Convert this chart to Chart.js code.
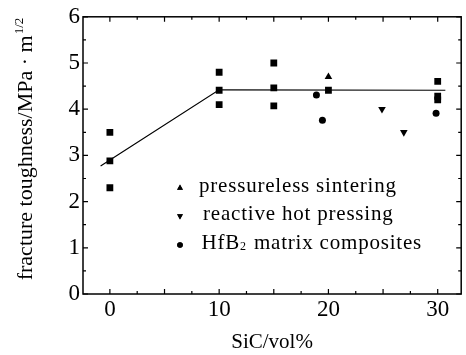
<!DOCTYPE html>
<html>
<head>
<meta charset="utf-8">
<script src="https://cdn.jsdelivr.net/npm/chart.js@4.4.0/dist/chart.umd.min.js"></script>
<style>
  html, body { margin: 0; padding: 0; background: #fff; }
  #wrap { position: relative; width: 466px; height: 355px; }
</style>
</head>
<body>
<div id="wrap"><canvas id="toughnessChart"></canvas></div>
<script>
// values
const matrixX = [0, 0, 0, 10, 10, 10, 15, 15, 15, 20, 30, 30, 30];
const matrixY = [3.5, 2.88, 2.3, 4.8, 4.41, 4.1, 5.0, 4.46, 4.07, 4.41, 4.6, 4.28, 4.2];
const sinterX = [20];
const sinterY = [4.7];
const hotPressX = [24.9, 26.9];
const hotPressY = [4.0, 3.5];
const hfb2X = [18.9, 19.45, 29.85];
const hfb2Y = [4.31, 3.76, 3.91];
const trendX = [-0.85, 10, 30.7];
const trendY = [2.77, 4.42, 4.41];

const legendLabels = ['pressureless sintering', 'reactive hot pressing', 'HfB₂ matrix composites'];
const xLabelTicks = [0, 10, 20, 30];
const yLabelTicks = [0, 1, 2, 3, 4, 5, 6];
const xTickMarks = [0, 2.5, 5, 7.5, 10, 12.5, 15, 17.5, 20, 22.5, 25, 27.5, 30];
const yTickMarks = [0, 0.5, 1, 1.5, 2, 2.5, 3, 3.5, 4, 4.5, 5, 5.5, 6];
const xTitle = 'SiC/vol%';
const yTitle = 'fracture toughness/MPa · m';
const yTitleSup = '1/2';

const serif = "'Liberation Serif', 'Times New Roman', serif";

function toPoints(xs, ys) {
    return xs.map((x, i) => ({ x: x, y: ys[i] }));
}

function marker(ctx, style, rotation, radius, x, y) {
    ctx.save();
    ctx.fillStyle = '#000';
    Chart.helpers.drawPoint(ctx, { pointStyle: style, rotation: rotation, radius: radius, borderWidth: 0 }, x, y);
    ctx.fill();
    ctx.restore();
}

// frame, inward ticks, y title and legend
const framePlugin = {
    id: 'frame',
    afterDraw(chart) {
        const ctx = chart.ctx;
        const a = chart.chartArea;
        const xs = chart.scales.x;
        const ys = chart.scales.y;
        ctx.save();
        ctx.strokeStyle = '#000';
        ctx.lineWidth = 1.5;
        ctx.strokeRect(a.left, a.top, a.right - a.left, a.bottom - a.top);

        ctx.lineWidth = 1.2;
        ctx.beginPath();
        xTickMarks.forEach(v => {
            const px = xs.getPixelForValue(v);
            const len = v % 5 === 0 ? 5 : 3;
            ctx.moveTo(px, a.bottom); ctx.lineTo(px, a.bottom - len);
            ctx.moveTo(px, a.top); ctx.lineTo(px, a.top + len);
        });
        yTickMarks.forEach(v => {
            const py = ys.getPixelForValue(v);
            const len = v % 1 === 0 ? 5 : 3;
            ctx.moveTo(a.left, py); ctx.lineTo(a.left + len, py);
            ctx.moveTo(a.right, py); ctx.lineTo(a.right - len, py);
        });
        ctx.stroke();

        // y title with superscript
        ctx.fillStyle = '#000';
        ctx.font = '22px ' + serif;
        const mainW = ctx.measureText(yTitle).width;
        ctx.font = '13px ' + serif;
        const supW = ctx.measureText(yTitleSup).width;
        const total = mainW + 1 + supW;
        ctx.translate(32, 149);
        ctx.rotate(-Math.PI / 2);
        ctx.textBaseline = 'alphabetic';
        ctx.textAlign = 'left';
        ctx.font = '22px ' + serif;
        ctx.fillText(yTitle, -total / 2, 0);
        ctx.font = '13px ' + serif;
        ctx.fillText(yTitleSup, -total / 2 + mainW + 1, -9);
        ctx.restore();

        // legend
        ctx.save();
        ctx.fillStyle = '#000';
        ctx.textBaseline = 'alphabetic';
        ctx.textAlign = 'left';
        if ('letterSpacing' in ctx) ctx.letterSpacing = '0.8px';
        const rows = [
            { style: 'triangle', rot: 0, r: 3.4, label: legendLabels[0], tx: 199, base: 192 },
            { style: 'triangle', rot: 180, r: 3.4, label: legendLabels[1], tx: 203, base: 220 },
            { style: 'circle', rot: 0, r: 2.8, label: legendLabels[2], tx: 201.5, base: 249 }
        ];
        rows.forEach(row => {
            marker(ctx, row.style, row.rot, row.r, 180, row.base - 4);
            const parts = row.label.split('₂');
            ctx.font = '21px ' + serif;
            let x = row.tx;
            ctx.fillText(parts[0], x, row.base);
            x += ctx.measureText(parts[0]).width;
            if (parts.length > 1) {
                ctx.font = '12px ' + serif;
                ctx.fillText('2', x, row.base + 1);
                x += ctx.measureText('2').width + 1;
                ctx.font = '21px ' + serif;
                ctx.fillText(parts[1], x, row.base);
            }
        });
        ctx.restore();
    }
};

new Chart(document.getElementById('toughnessChart'), {
    type: 'scatter',
    data: {
        datasets: [
            {
                label: 'fit',
                data: toPoints(trendX, trendY),
                showLine: true,
                borderColor: '#000',
                borderWidth: 1.2,
                pointRadius: 0,
                fill: false
            },
            {
                label: 'SiC',
                data: toPoints(matrixX, matrixY),
                pointStyle: 'rect',
                pointRadius: 4.8,
                backgroundColor: '#000',
                borderWidth: 0
            },
            {
                label: legendLabels[0],
                data: toPoints(sinterX, sinterY),
                pointStyle: 'triangle',
                pointRadius: 4.4,
                backgroundColor: '#000',
                borderWidth: 0
            },
            {
                label: legendLabels[1],
                data: toPoints(hotPressX, hotPressY),
                pointStyle: 'triangle',
                rotation: 180,
                pointRadius: 4.4,
                backgroundColor: '#000',
                borderWidth: 0
            },
            {
                label: legendLabels[2],
                data: toPoints(hfb2X, hfb2Y),
                pointStyle: 'circle',
                pointRadius: 3.5,
                backgroundColor: '#000',
                borderWidth: 0
            }
        ]
    },
    options: {
        responsive: true,
        maintainAspectRatio: false,
        animation: false,
        layout: { padding: { top: 14, right: 3, left: 0, bottom: 0 } },
        plugins: {
            legend: { display: false },
            tooltip: { enabled: false }
        },
        scales: {
            x: {
                type: 'linear',
                min: -2.46,
                max: 32.15,
                grid: { display: false, drawTicks: false },
                border: { display: false },
                afterBuildTicks: scale => { scale.ticks = xLabelTicks.map(v => ({ value: v })); },
                afterFit: scale => { scale.height = 61; },
                ticks: {
                    color: '#000',
                    padding: 2,
                    maxRotation: 0,
                    font: { family: serif, size: 23 }
                },
                title: {
                    display: true,
                    text: xTitle,
                    color: '#000',
                    font: { family: serif, size: 21 },
                    padding: { top: 4, bottom: 0 }
                }
            },
            y: {
                type: 'linear',
                min: 0,
                max: 6,
                grid: { display: false, drawTicks: false },
                border: { display: false },
                afterBuildTicks: scale => { scale.ticks = yLabelTicks.map(v => ({ value: v })); },
                afterFit: scale => { scale.width = 83; },
                ticks: {
                    color: '#000',
                    padding: 3,
                    font: { family: serif, size: 23 }
                }
            }
        }
    },
    plugins: [framePlugin]
});
</script>
</body>
</html>
